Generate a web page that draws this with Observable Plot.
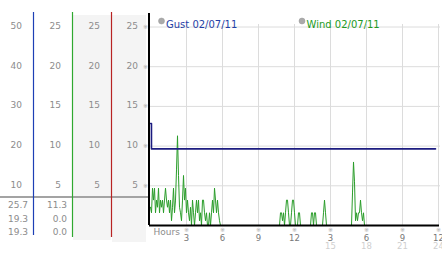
<!DOCTYPE html>
<html><head><meta charset="utf-8">
<script src="https://cdn.jsdelivr.net/npm/d3@7"></script>
<script src="https://cdn.jsdelivr.net/npm/@observablehq/plot@0.6"></script>
<style>
body{margin:0;background:#fff}
#wrap{position:relative;width:442px;height:253px;overflow:hidden}
#wrap svg{position:absolute;left:0;top:0}
</style>
</head><body><div id="wrap"></div>
<script>
// ---- data ----
const gustTicks = [10, 20, 30, 40, 50];          // gust scale (mph)
const windTicks = [5, 10, 15, 20, 25];           // wind scale (mph)
const hourTicks = [3, 6, 9, 12, 15, 18, 21, 24];
const hourLabels = ["3", "6", "9", "12", "3", "6", "9", "12"];
const hourTicks24 = [15, 18, 21, 24];
const hourLabels24 = ["15", "18", "21", "24"];
const legendLabels = ["Gust 02/07/11", "Wind 02/07/11"];
const statsGust = ["25.7", "19.3", "19.3"];
const statsWind = ["11.3", "0.0", "0.0"];
const gustHours = [0, 0.08, 23.75];
const gustMph = [25.7, 19.3, 19.3];
const windStepMinutes = 5;
const windMph = [
  2.3,1.6,4.7,3.2,4.7,1.6,3.2,2.3,4.7,1.6,
  3.2,2.3,3.2,1.6,3.2,4.7,3.2,2.3,3.2,1.6,
  3.2,0.6,2.3,4.7,1.6,3.2,7.0,11.3,6.3,2.3,
  1.6,0.6,3.2,6.3,3.2,4.7,1.6,3.2,1.6,0.6,
  2.3,0,3.2,1.6,0,1.6,3.2,1.6,3.2,0.6,
  1.6,0,3.2,3.2,1.6,0.6,1.6,0,0,1.6,
  0,1.6,3.2,1.6,4.7,3.2,1.6,3.2,1.6,0.6,
  0,0,0,0,0,0,0,0,0,0,
  0,0,0,0,0,0,0,0,0,0,
  0,0,0,0,0,0,0,0,0,0,
  0,0,0,0,0,0,0,0,0,0,
  0,0,0,0,0,0,0,0,0,0,
  0,0,0,0,0,0,0,0,0,0,
  1.6,1.6,0.6,1.6,0,1.6,3.2,3.2,1.6,0,
  0,1.6,3.2,3.2,1.6,0,0,0,1.6,1.6,
  0,0,0,0,0,0,0,0,0,0,
  0,1.6,1.6,0,1.6,1.6,0,0,0,0,
  0,0,0,1.6,3.2,1.6,0,0,0,0,
  0,0,0,0,0,0,0,0,0,0,
  0,0,0,0,0,0,0,0,0,0,
  0,0,4.1,8.0,5.5,0.6,1.6,0.6,1.6,1.6,
  3.2,1.6,0.6,1.6,0,0,0,0,0,0,
  0,0,0,0,0,0,0,0,0,0,
  0,0,0,0,0,0,0,0,0,0,
  0,0,0,0,0,0,0,0,0,0,
  0,0,0,0,0,0,0,0,0,0,
  0,0,0,0,0,0,0,0,0,0,
  0,0,0,0,0,0,0,0,0,0,
  0,0,0,0,0,0
];

// ---- tables built from the arrays ----
const gust = gustHours.map((h, i) => ({hour: h, mph: gustMph[i]}));
const wind = windMph.map((v, i) => ({hour: i * windStepMinutes / 60, mph: v}));

// ---- layout ----
const font = {fontFamily: "DejaVu Sans, Verdana, sans-serif", fontSize: "9px", background: "transparent", overflow: "visible"};
const xScale = {domain: [0, 24], range: [150, 438], axis: null};
const yScale = {domain: [0, 50], range: [225, 26.5], axis: null};
const ys = Plot.scale({y: yScale});
const xs = Plot.scale({x: xScale});
const Y = px => ys.invert(px);
const X = px => xs.invert(px);
const windToGust = v => v * 2; // wind axis (0–25) shares pixels with gust axis (0–50)
const labelGray = "#8c8c8c";

// left panel: columns of scale labels and stats
const left = Plot.plot({
  width: 442, height: 253, margin: 0,
  style: {...font, background: "#fff"},
  x: {type: "identity"},
  y: yScale,
  marks: [
    Plot.rect([0], {x1: 73, x2: 111, y1: Y(15), y2: Y(240), fill: "#f4f4f4"}),
    Plot.rect([0], {x1: 112, x2: 146, y1: Y(15), y2: Y(242), fill: "#f4f4f4"}),
    Plot.ruleY([Y(196.5)], {x1: 0, x2: 148, stroke: "#a3a3a3", strokeWidth: 2}),
    Plot.ruleX([33], {y1: Y(12), y2: Y(235), stroke: "#1d3fb5", strokeWidth: 1.2}),
    Plot.ruleX([72], {y1: Y(12), y2: Y(237), stroke: "#2fa82f", strokeWidth: 1.2}),
    Plot.ruleX([111], {y1: Y(12), y2: Y(237), stroke: "#b82323", strokeWidth: 1.2}),
    Plot.text(gustTicks, {x: 21.5, y: d => d, dy: -1, text: d => String(d), textAnchor: "end", fill: labelGray}),
    Plot.text(windTicks, {x: 60.5, y: d => windToGust(d), dy: -1, text: d => String(d), textAnchor: "end", fill: labelGray}),
    Plot.text(windTicks, {x: 99.5, y: d => windToGust(d), dy: -1, text: d => String(d), textAnchor: "end", fill: labelGray}),
    Plot.text(windTicks, {x: 137.5, y: d => windToGust(d), dy: -1, text: d => String(d), textAnchor: "end", fill: labelGray}),
    Plot.text(gustTicks, {x: 145, y: d => d, text: () => "※", fontSize: 6, fill: "#aaa"}),
    Plot.text(statsGust, {x: 27.5, y: (d, i) => Y(205 + i * 13.3), text: d => d, textAnchor: "end", fill: labelGray}),
    Plot.text(statsWind, {x: 66.5, y: (d, i) => Y(205 + i * 13.3), text: d => d, textAnchor: "end", fill: labelGray})
  ]
});

// right panel: the chart
const chart = Plot.plot({
  width: 442, height: 253, margin: 0,
  style: font,
  x: xScale,
  y: yScale,
  marks: [
    Plot.ruleY(gustTicks, {x1: 0, x2: X(440), stroke: "#dcdcdc"}),
    Plot.ruleX(hourTicks, {y1: Y(24), y2: 0, stroke: "#dcdcdc"}),
    Plot.line(wind, {x: "hour", y: d => windToGust(d.mph), stroke: "#2a9d2a", strokeWidth: 1}),
    Plot.line(gust, {x: "hour", y: "mph", curve: "step-after", stroke: "#1c1c80", strokeWidth: 1.6}),
    Plot.ruleY([0], {x1: 0, x2: X(440), dx: -1, stroke: "#000", strokeWidth: 2}),
    Plot.ruleX([0], {y1: Y(13), y2: 0, dx: -1.5, stroke: "#000", strokeWidth: 2}),
    Plot.text(hourTicks, {x: d => d, y: 0, dy: 4.5, text: () => "※", fontSize: 6, fill: "#aaa"}),
    Plot.text(hourTicks, {x: d => d, y: 0, dy: 12.5, text: (d, i) => hourLabels[i], fill: "#777", fontSize: 8.5}),
    Plot.text(hourTicks24, {x: d => d, y: 0, dy: 21, text: (d, i) => hourLabels24[i], fill: "#cfcfcf", fontSize: 8.5}),
    Plot.text(["Hours"], {x: 0, y: 0, dx: 3, dy: 6.5, textAnchor: "start", fill: labelGray}),
    Plot.dot([legendLabels[0]], {frameAnchor: "top-left", dx: 161, dy: 20.5, r: 3, fill: "#aaa", stroke: "#999", strokeWidth: 0.5}),
    Plot.text([legendLabels[0]], {frameAnchor: "top-left", dx: 165.5, dy: 20.5, text: d => d, textAnchor: "start", fill: "#1f3fa6", fontSize: 10}),
    Plot.dot([legendLabels[1]], {frameAnchor: "top-left", dx: 301.5, dy: 20.5, r: 3, fill: "#aaa", stroke: "#999", strokeWidth: 0.5}),
    Plot.text([legendLabels[1]], {frameAnchor: "top-left", dx: 306, dy: 20.5, text: d => d, textAnchor: "start", fill: "#229a22", fontSize: 10})
  ]
});

const wrap = document.getElementById("wrap");
wrap.append(left, chart);
</script>
</body></html>
